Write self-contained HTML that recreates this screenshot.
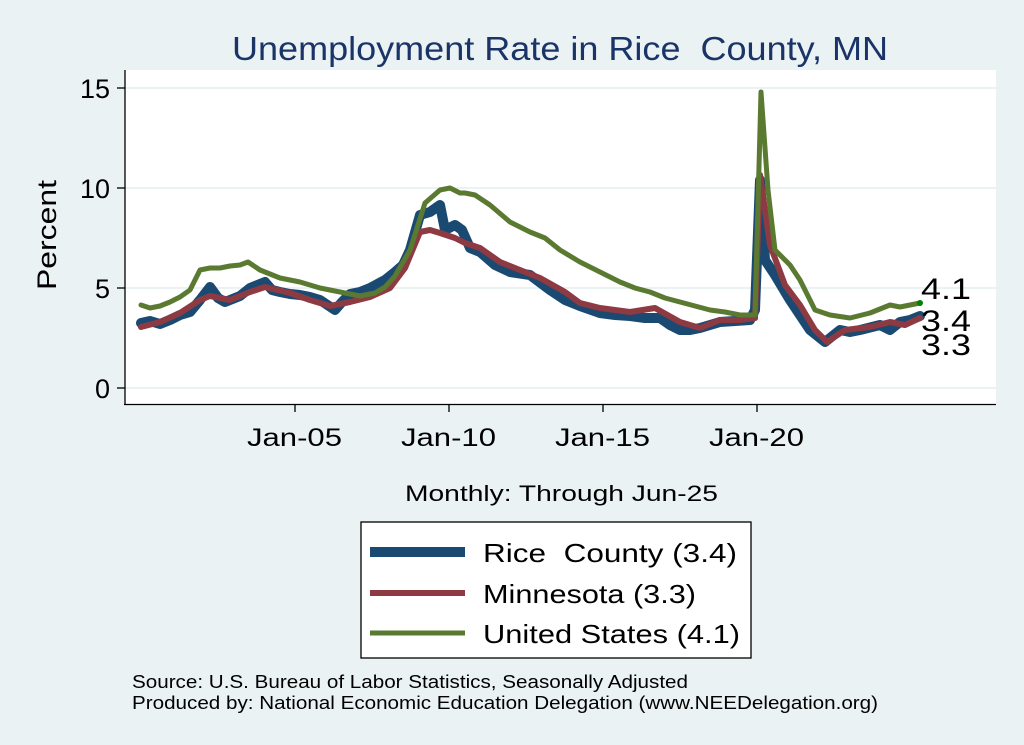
<!DOCTYPE html>
<html><head><style>
body{margin:0;background:#eaf2f3;}
svg{display:block;font-family:"Liberation Sans",Arial,sans-serif;}
</style></head><body>
<svg width="1024" height="745" viewBox="0 0 1024 745">
<rect width="1024" height="745" fill="#eaf2f3"/>
<rect x="125" y="70" width="871" height="334" fill="#fff"/>
<g stroke="#eaf2f3" stroke-width="2">
<line x1="125" y1="88" x2="996" y2="88"/><line x1="125" y1="188" x2="996" y2="188"/>
<line x1="125" y1="288" x2="996" y2="288"/><line x1="125" y1="388" x2="996" y2="388"/>
</g>
<g stroke="#000" stroke-width="1.3">
<line x1="125" y1="70" x2="125" y2="405"/><line x1="124" y1="404.5" x2="996" y2="404.5"/>
<line x1="117" y1="88" x2="125" y2="88"/><line x1="117" y1="188" x2="125" y2="188"/>
<line x1="117" y1="288" x2="125" y2="288"/><line x1="117" y1="388" x2="125" y2="388"/>
<line x1="295" y1="404" x2="295" y2="412"/><line x1="449" y1="404" x2="449" y2="412"/>
<line x1="603" y1="404" x2="603" y2="412"/><line x1="757" y1="404" x2="757" y2="412"/>
</g>
<g font-size="27">
<text x="80" y="98" textLength="30" lengthAdjust="spacingAndGlyphs">15</text>
<text x="80" y="198" textLength="30" lengthAdjust="spacingAndGlyphs">10</text>
<text x="95" y="298">5</text><text x="95" y="398">0</text>
</g>
<g font-size="25" lengthAdjust="spacingAndGlyphs">
<text x="247" y="446" textLength="95" lengthAdjust="spacingAndGlyphs">Jan-05</text>
<text x="401" y="446" textLength="95" lengthAdjust="spacingAndGlyphs">Jan-10</text>
<text x="555" y="446" textLength="95" lengthAdjust="spacingAndGlyphs">Jan-15</text>
<text x="709" y="446" textLength="95" lengthAdjust="spacingAndGlyphs">Jan-20</text>
</g>
<text x="232" y="60" font-size="33" fill="#1a3468" textLength="656" lengthAdjust="spacingAndGlyphs">Unemployment Rate in Rice&#160; County, MN</text>
<text transform="translate(56,290) rotate(-90)" font-size="27" textLength="110" lengthAdjust="spacingAndGlyphs">Percent</text>
<text x="405" y="501" font-size="22" textLength="313" lengthAdjust="spacingAndGlyphs">Monthly: Through Jun-25</text>
<g fill="none" stroke-linejoin="round" stroke-linecap="round">
<polyline stroke="#1a4a72" stroke-width="10" points="141,323 150,321 160,324 170,320 180,315 190,312 200,300 210,287 218,298 225,302 240,296 250,288 265,282 272,290 280,292 290,294 300,295 310,297 320,300 335,310 342,302 350,294 360,292 370,288 385,280 395,272 403,265 410,250 420,215 430,212 440,205 445,230 455,225 462,230 470,248 480,252 495,265 510,272 530,275 550,290 565,300 580,306 600,313 615,315 630,316 645,318 660,318 670,325 680,330 690,330 700,328 720,322 750,320 755,310 760,180 765,260 775,275 790,300 810,330 825,342 840,330 850,332 860,330 880,325 890,330 900,322 910,320 920,316"/>
<polyline stroke="#8e3a42" stroke-width="6" points="141,327 160,322 180,313 200,300 210,296 230,300 250,292 265,287 290,293 310,300 330,306 350,302 370,297 390,288 405,268 420,232 430,230 440,233 455,238 465,243 480,248 500,262 520,270 540,278 565,292 580,303 600,308 630,312 655,308 680,322 700,328 720,320 740,320 755,318 760,175 770,245 785,285 800,305 815,330 827,342 845,330 870,327 890,322 905,325 920,318"/>
<polyline stroke="#5a7a32" stroke-width="5" points="141,305 150,308 160,306 170,302 180,297 190,290 200,270 210,268 220,268 230,266 240,265 248,262 260,270 280,278 300,282 320,288 340,292 360,296 375,293 385,287 395,276 410,250 425,203 440,190 450,188 460,193 465,193 475,195 490,205 510,222 530,232 545,238 560,250 580,262 600,272 620,282 635,288 650,292 665,298 680,302 695,306 710,310 725,312 740,315 755,315 761,92 768,190 775,250 790,265 800,280 815,310 830,315 850,318 870,313 890,305 900,307 910,305 920,303"/>
</g>
<circle cx="920" cy="303" r="3" fill="#008000"/>
<g font-size="30">
<text x="921" y="299" textLength="50" lengthAdjust="spacingAndGlyphs">4.1</text>
<text x="921" y="331" textLength="50" lengthAdjust="spacingAndGlyphs">3.4</text>
<text x="921" y="355" textLength="50" lengthAdjust="spacingAndGlyphs">3.3</text>
</g>
<rect x="361" y="522" width="390" height="136" fill="#fff" stroke="#000" stroke-width="1.3"/>
<line x1="370" y1="552" x2="465" y2="552" stroke="#1a4a72" stroke-width="10"/>
<line x1="370" y1="593" x2="465" y2="593" stroke="#8e3a42" stroke-width="6"/>
<line x1="370" y1="633" x2="465" y2="633" stroke="#5a7a32" stroke-width="5"/>
<g font-size="26">
<text x="483" y="562" textLength="254" lengthAdjust="spacingAndGlyphs">Rice&#160; County (3.4)</text>
<text x="483" y="603" textLength="213" lengthAdjust="spacingAndGlyphs">Minnesota (3.3)</text>
<text x="483" y="643" textLength="257" lengthAdjust="spacingAndGlyphs">United States (4.1)</text>
</g>
<g font-size="18">
<text x="132" y="688" textLength="556" lengthAdjust="spacingAndGlyphs">Source: U.S. Bureau of Labor Statistics, Seasonally Adjusted</text>
<text x="132" y="709" textLength="746" lengthAdjust="spacingAndGlyphs">Produced by: National Economic Education Delegation (www.NEEDelegation.org)</text>
</g>
</svg>
</body></html>
